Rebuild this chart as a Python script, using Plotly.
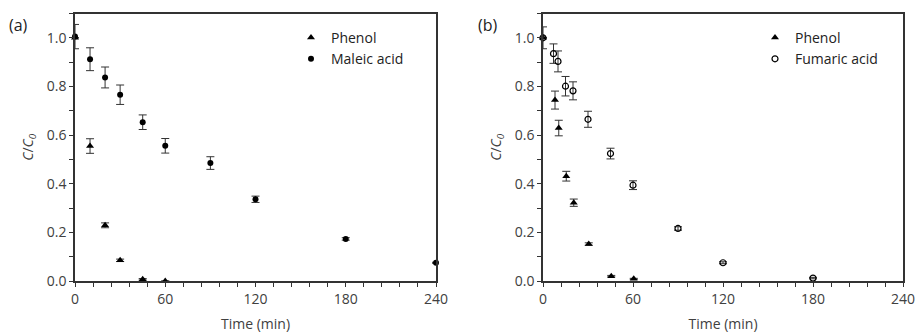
import plotly.graph_objects as go

# ---------------- data ----------------
# Panel (a)
t_a_phenol = [0, 10, 20, 30, 45, 60]
phenol_a = [1.0, 0.555, 0.229, 0.085, 0.007, 0.0]
phenol_a_err = [0.0, 0.03, 0.01, 0.005, 0.003, 0.0]

t_a_maleic = [0, 10, 20, 30, 45, 60, 90, 120, 180, 240]
maleic_a = [1.005, 0.912, 0.837, 0.766, 0.653, 0.556, 0.485, 0.336, 0.173, 0.075]
maleic_a_err = [0.05, 0.047, 0.043, 0.04, 0.03, 0.03, 0.026, 0.013, 0.005, 0.002]

# Panel (b)
t_b_phenol = [0, 8, 10.5, 15.5, 20.5, 30.5, 45.5, 60.5]
phenol_b = [1.0, 0.744, 0.629, 0.431, 0.322, 0.152, 0.02, 0.009]
phenol_b_err = [0.0, 0.037, 0.032, 0.02, 0.015, 0.005, 0.003, 0.002]

t_b_fumaric = [0, 7, 10, 15, 20, 30, 45, 60, 90, 120, 180]
fumaric_b = [1.0, 0.935, 0.903, 0.801, 0.782, 0.665, 0.524, 0.394, 0.216, 0.075, 0.012]
fumaric_b_err = [0.045, 0.04, 0.043, 0.04, 0.037, 0.033, 0.022, 0.018, 0.007, 0.004, 0.003]

x_ticks = [0, 60, 120, 180, 240]
y_ticks = [0.0, 0.2, 0.4, 0.6, 0.8, 1.0]
panel_labels = ["(a)", "(b)"]

FONT = "Open Sans"
TXT = "#404040"
LINE = "#333333"
FS = 14
W, H = 917, 333

def err(vals):
    return dict(type="data", array=vals, visible=True, color="#333333",
                thickness=1, width=4)

fig = go.Figure()

fig.add_trace(go.Scatter(x=t_a_phenol, y=phenol_a, error_y=err(phenol_a_err),
                         mode="markers", name="Phenol",
                         marker=dict(symbol="triangle-up", size=7, color="black"),
                         cliponaxis=False, xaxis="x", yaxis="y", legend="legend"))
fig.add_trace(go.Scatter(x=t_a_maleic, y=maleic_a, error_y=err(maleic_a_err),
                         mode="markers", name="Maleic acid",
                         marker=dict(symbol="circle", size=6, color="black"),
                         cliponaxis=False, xaxis="x", yaxis="y", legend="legend"))
fig.add_trace(go.Scatter(x=t_b_phenol, y=phenol_b, error_y=err(phenol_b_err),
                         mode="markers", name="Phenol",
                         marker=dict(symbol="triangle-up", size=7, color="black"),
                         cliponaxis=False, xaxis="x2", yaxis="y2", legend="legend2"))
fig.add_trace(go.Scatter(x=t_b_fumaric, y=fumaric_b, error_y=err(fumaric_b_err),
                         mode="markers", name="Fumaric acid",
                         marker=dict(symbol="circle-open", size=6, color="black",
                                     line=dict(width=1.2, color="black")),
                         cliponaxis=False, xaxis="x2", yaxis="y2", legend="legend2"))

def xax(domain, anchor):
    return dict(domain=domain, anchor=anchor, range=[0, 240],
                tickvals=x_ticks, ticks="outside", ticklen=4, tickwidth=1,
                tickcolor=LINE,
                minor=dict(dtick=12, tick0=0, ticks="outside", ticklen=4,
                           tickwidth=1, tickcolor=LINE),
                showline=True, linecolor=LINE, linewidth=1.5, mirror=True,
                showgrid=False, zeroline=False,
                tickfont=dict(family=FONT, size=FS, color=TXT),
                title=dict(text="Time (min)", standoff=13,
                           font=dict(family=FONT, size=FS, color=TXT)),
                automargin=False)

def yax(anchor):
    return dict(domain=[52 / H, 1 - 13.5 / H], anchor=anchor, range=[0, 1.1],
                tickvals=y_ticks, tickformat=".1f", ticks="outside", ticklen=4,
                tickwidth=1, tickcolor=LINE,
                minor=dict(dtick=0.1, tick0=0, ticks="outside", ticklen=4,
                           tickwidth=1, tickcolor=LINE),
                showline=True, linecolor=LINE, linewidth=1.5, mirror=True,
                showgrid=False, zeroline=False,
                tickfont=dict(family=FONT, size=FS, color=TXT),
                title=dict(text="<i>C</i>/<i>C</i><sub><i>0</i></sub>", standoff=10,
                           font=dict(family=FONT, size=FS, color=TXT)),
                automargin=False)

legend_common = dict(font=dict(family=FONT, size=FS, color="#222222"),
                     bgcolor="rgba(0,0,0,0)", xanchor="left", yanchor="top",
                     itemsizing="trace", tracegroupgap=0)

fig.update_layout(
    width=W, height=H,
    margin=dict(l=0, r=0, t=0, b=0),
    paper_bgcolor="white", plot_bgcolor="white",
    showlegend=True,
    xaxis=xax([75 / W, 436 / W], "y"),
    yaxis=yax("x"),
    xaxis2=xax([543 / W, 903 / W], "y2"),
    yaxis2=yax("x2"),
    legend=dict(x=291 / W, y=1 - 22 / H, **legend_common),
    legend2=dict(x=755 / W, y=1 - 22 / H, **legend_common),
    annotations=[
        dict(text=panel_labels[0], x=18 / W, y=1 - 25 / H, xref="paper", yref="paper",
             showarrow=False, xanchor="center", yanchor="middle",
             font=dict(family=FONT, size=16, color="#222222")),
        dict(text=panel_labels[1], x=488 / W, y=1 - 25 / H, xref="paper", yref="paper",
             showarrow=False, xanchor="center", yanchor="middle",
             font=dict(family=FONT, size=16, color="#222222")),
    ],
)

fig.write_html("out.html")
